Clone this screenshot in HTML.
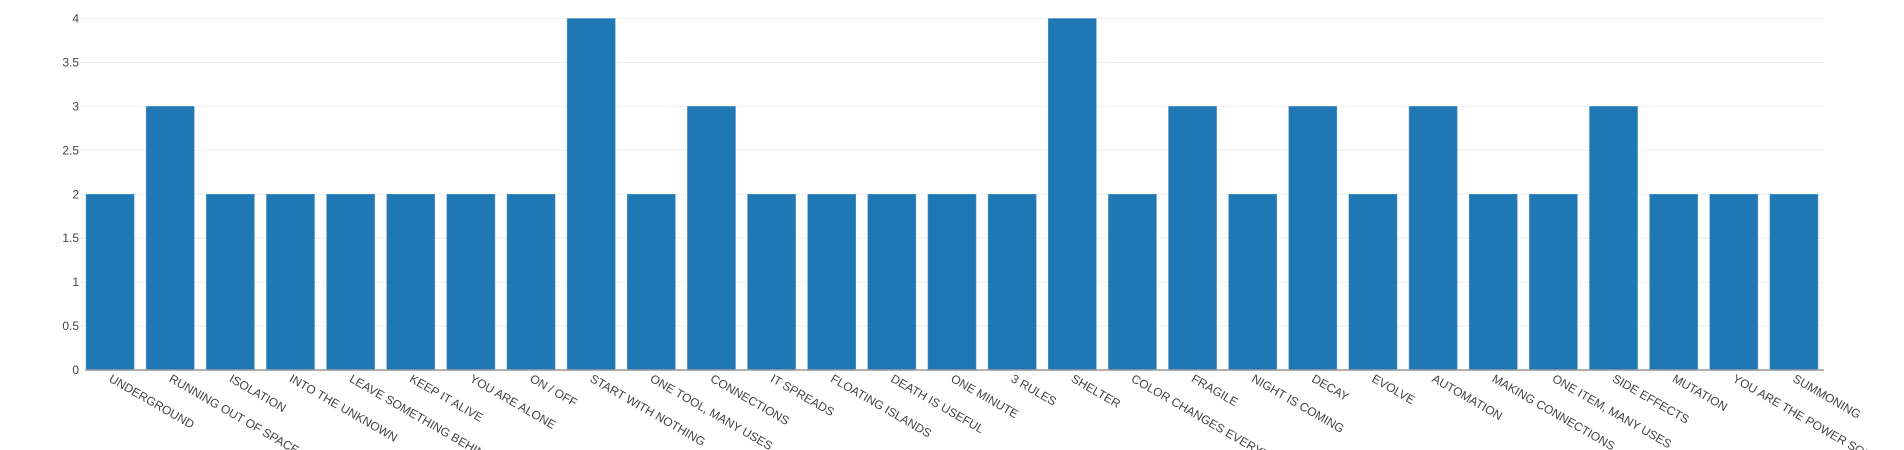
<!DOCTYPE html>
<html><head><meta charset="utf-8"><style>
html,body{margin:0;padding:0;background:#fff;width:1904px;height:450px;overflow:hidden;}
svg{display:block;font-family:"Liberation Sans",sans-serif;overflow:hidden;}
</style></head><body>
<svg id="chart" width="1904" height="450" xmlns="http://www.w3.org/2000/svg"></svg>
<script>
const categories = ["UNDERGROUND","RUNNING OUT OF SPACE","ISOLATION","INTO THE UNKNOWN","LEAVE SOMETHING BEHIND","KEEP IT ALIVE","YOU ARE ALONE","ON / OFF","START WITH NOTHING","ONE TOOL, MANY USES","CONNECTIONS","IT SPREADS","FLOATING ISLANDS","DEATH IS USEFUL","ONE MINUTE","3 RULES","SHELTER","COLOR CHANGES EVERYTHING","FRAGILE","NIGHT IS COMING","DECAY","EVOLVE","AUTOMATION","MAKING CONNECTIONS","ONE ITEM, MANY USES","SIDE EFFECTS","MUTATION","YOU ARE THE POWER SOURCE","SUMMONING"];
const values = [2,3,2,2,2,2,2,2,4,2,3,2,2,2,2,2,4,2,3,2,3,2,3,2,2,3,2,2,2];
const yTicks = [0,0.5,1,1.5,2,2.5,3,3.5,4];
const yTickLabels = ["0","0.5","1","1.5","2","2.5","3","3.5","4"];

const svg = document.getElementById('chart');
const NS = 'http://www.w3.org/2000/svg';
const X0 = 80, X1 = 1824, Y0 = 370, Y1 = 18.5, YMAX = 4;
const band = (X1 - X0) / categories.length;
const barW = band * 0.8;
function xScale(i){ return X0 + i * band; }
function yScale(v){ return Y0 - (v / YMAX) * (Y0 - Y1); }
function mk(tag, attrs){ const e = document.createElementNS(NS, tag); for (const k in attrs) e.setAttribute(k, attrs[k]); svg.appendChild(e); return e; }

yTicks.forEach((t, i) => {
  const y = yScale(t);
  if (t !== 0) {
    const g = mk('line', {x1: X0, x2: X1, y1: y, y2: y, stroke: '#eeeeee', 'stroke-width': 1});
    
    
  }
  const lb = mk('text', {x: 79, y: y + 4, 'text-anchor': 'end', 'font-size': 12, fill: '#444'});
  lb.textContent = yTickLabels[i];
  
  
});

values.forEach((v, i) => {
  const x = xScale(i) + (band - barW) / 2;
  const y = yScale(v);
  const r = mk('rect', {x: x, y: y, width: barW, height: Y0 - y, fill: '#1f77b4', stroke: '#5a9bd0', 'stroke-width': 0.5});
  
  
  const cx = xScale(i) + band / 2 - 2;
  const t = mk('text', {x: cx, y: 381, 'font-size': 12, fill: '#444', transform: 'rotate(30 ' + cx + ' 381)'});
  t.textContent = categories[i];
  
  
});

const ax = mk('line', {x1: X0 + 5, x2: X1, y1: Y0, y2: Y0, stroke: '#999', 'stroke-width': 1.5});


</script>
</body></html>
